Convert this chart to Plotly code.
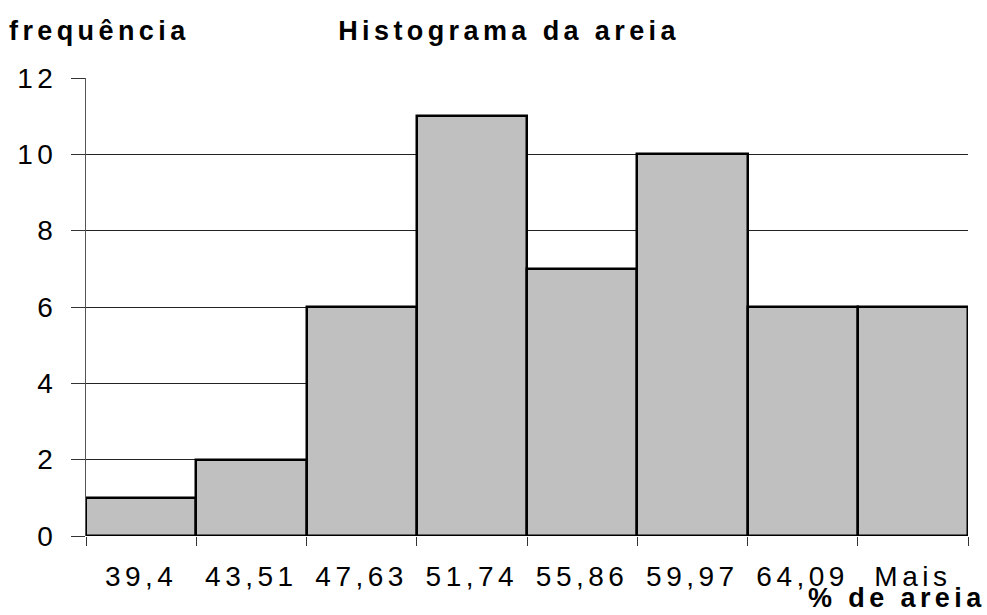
import plotly.graph_objects as go

# Histogram of sand percentage: bin upper limits and frequencies
bins = ["39,4", "43,51", "47,63", "51,74", "55,86", "59,97", "64,09", "Mais"]
freq = [1, 2, 6, 11, 7, 10, 6, 6]
y_ticks = [0, 2, 4, 6, 8, 10, 12]

FONT = "Liberation Sans, Arial, sans-serif"
W, H = 987, 615
ML, MR, MT, MB = 86, 19, 78, 79

fig = go.Figure(
    go.Bar(
        x=bins,
        y=freq,
        marker=dict(color="#C0C0C0", line=dict(color="black", width=2.5)),
        width=1,
    )
)


def px_to_paper(x, y):
    pw = W - ML - MR
    ph = H - MT - MB
    return (x - ML) / pw, (H - MB - y) / ph


def label(text, cx, cy):
    x, y = px_to_paper(cx, cy)
    return dict(text=f"<b>{text}</b>", x=x, y=y, xref="paper", yref="paper",
                showarrow=False, xanchor="center", yanchor="middle",
                font=dict(size=27))


fig.update_layout(
    width=W,
    height=H,
    margin=dict(l=ML, r=MR, t=MT, b=MB),
    paper_bgcolor="white",
    plot_bgcolor="white",
    bargap=0,
    showlegend=False,
    font=dict(family=FONT, color="black", size=28),
    xaxis=dict(
        type="category",
        tickson="boundaries",
        ticks="outside",
        ticklen=9,
        tickcolor="#333",
        tickwidth=1,
        showgrid=False,
        showline=False,
        zeroline=False,
        tickfont=dict(size=28),
        ticklabelstandoff=21,
    ),
    yaxis=dict(
        range=[0, 12],
        tickvals=y_ticks,
        ticks="outside",
        ticklen=14,
        tickcolor="#333",
        tickwidth=1,
        showgrid=True,
        gridcolor="#222",
        gridwidth=1,
        showline=True,
        linecolor="#555",
        linewidth=1,
        zeroline=False,
        tickfont=dict(size=28),
        ticklabelstandoff=8,
    ),
    annotations=[
        label("frequência", 100, 31),
        label("Histograma da areia", 509, 31),
        label("% de areia", 897, 598),
    ],
)

# wide letter spacing for all chart text
post = """
var s = document.createElement('style');
s.textContent = '.xtick text, .ytick text {letter-spacing: 4.5px;} .annotation text {letter-spacing: 4.4px;}';
document.head.appendChild(s);
"""

fig.write_html("out.html", post_script=post)
